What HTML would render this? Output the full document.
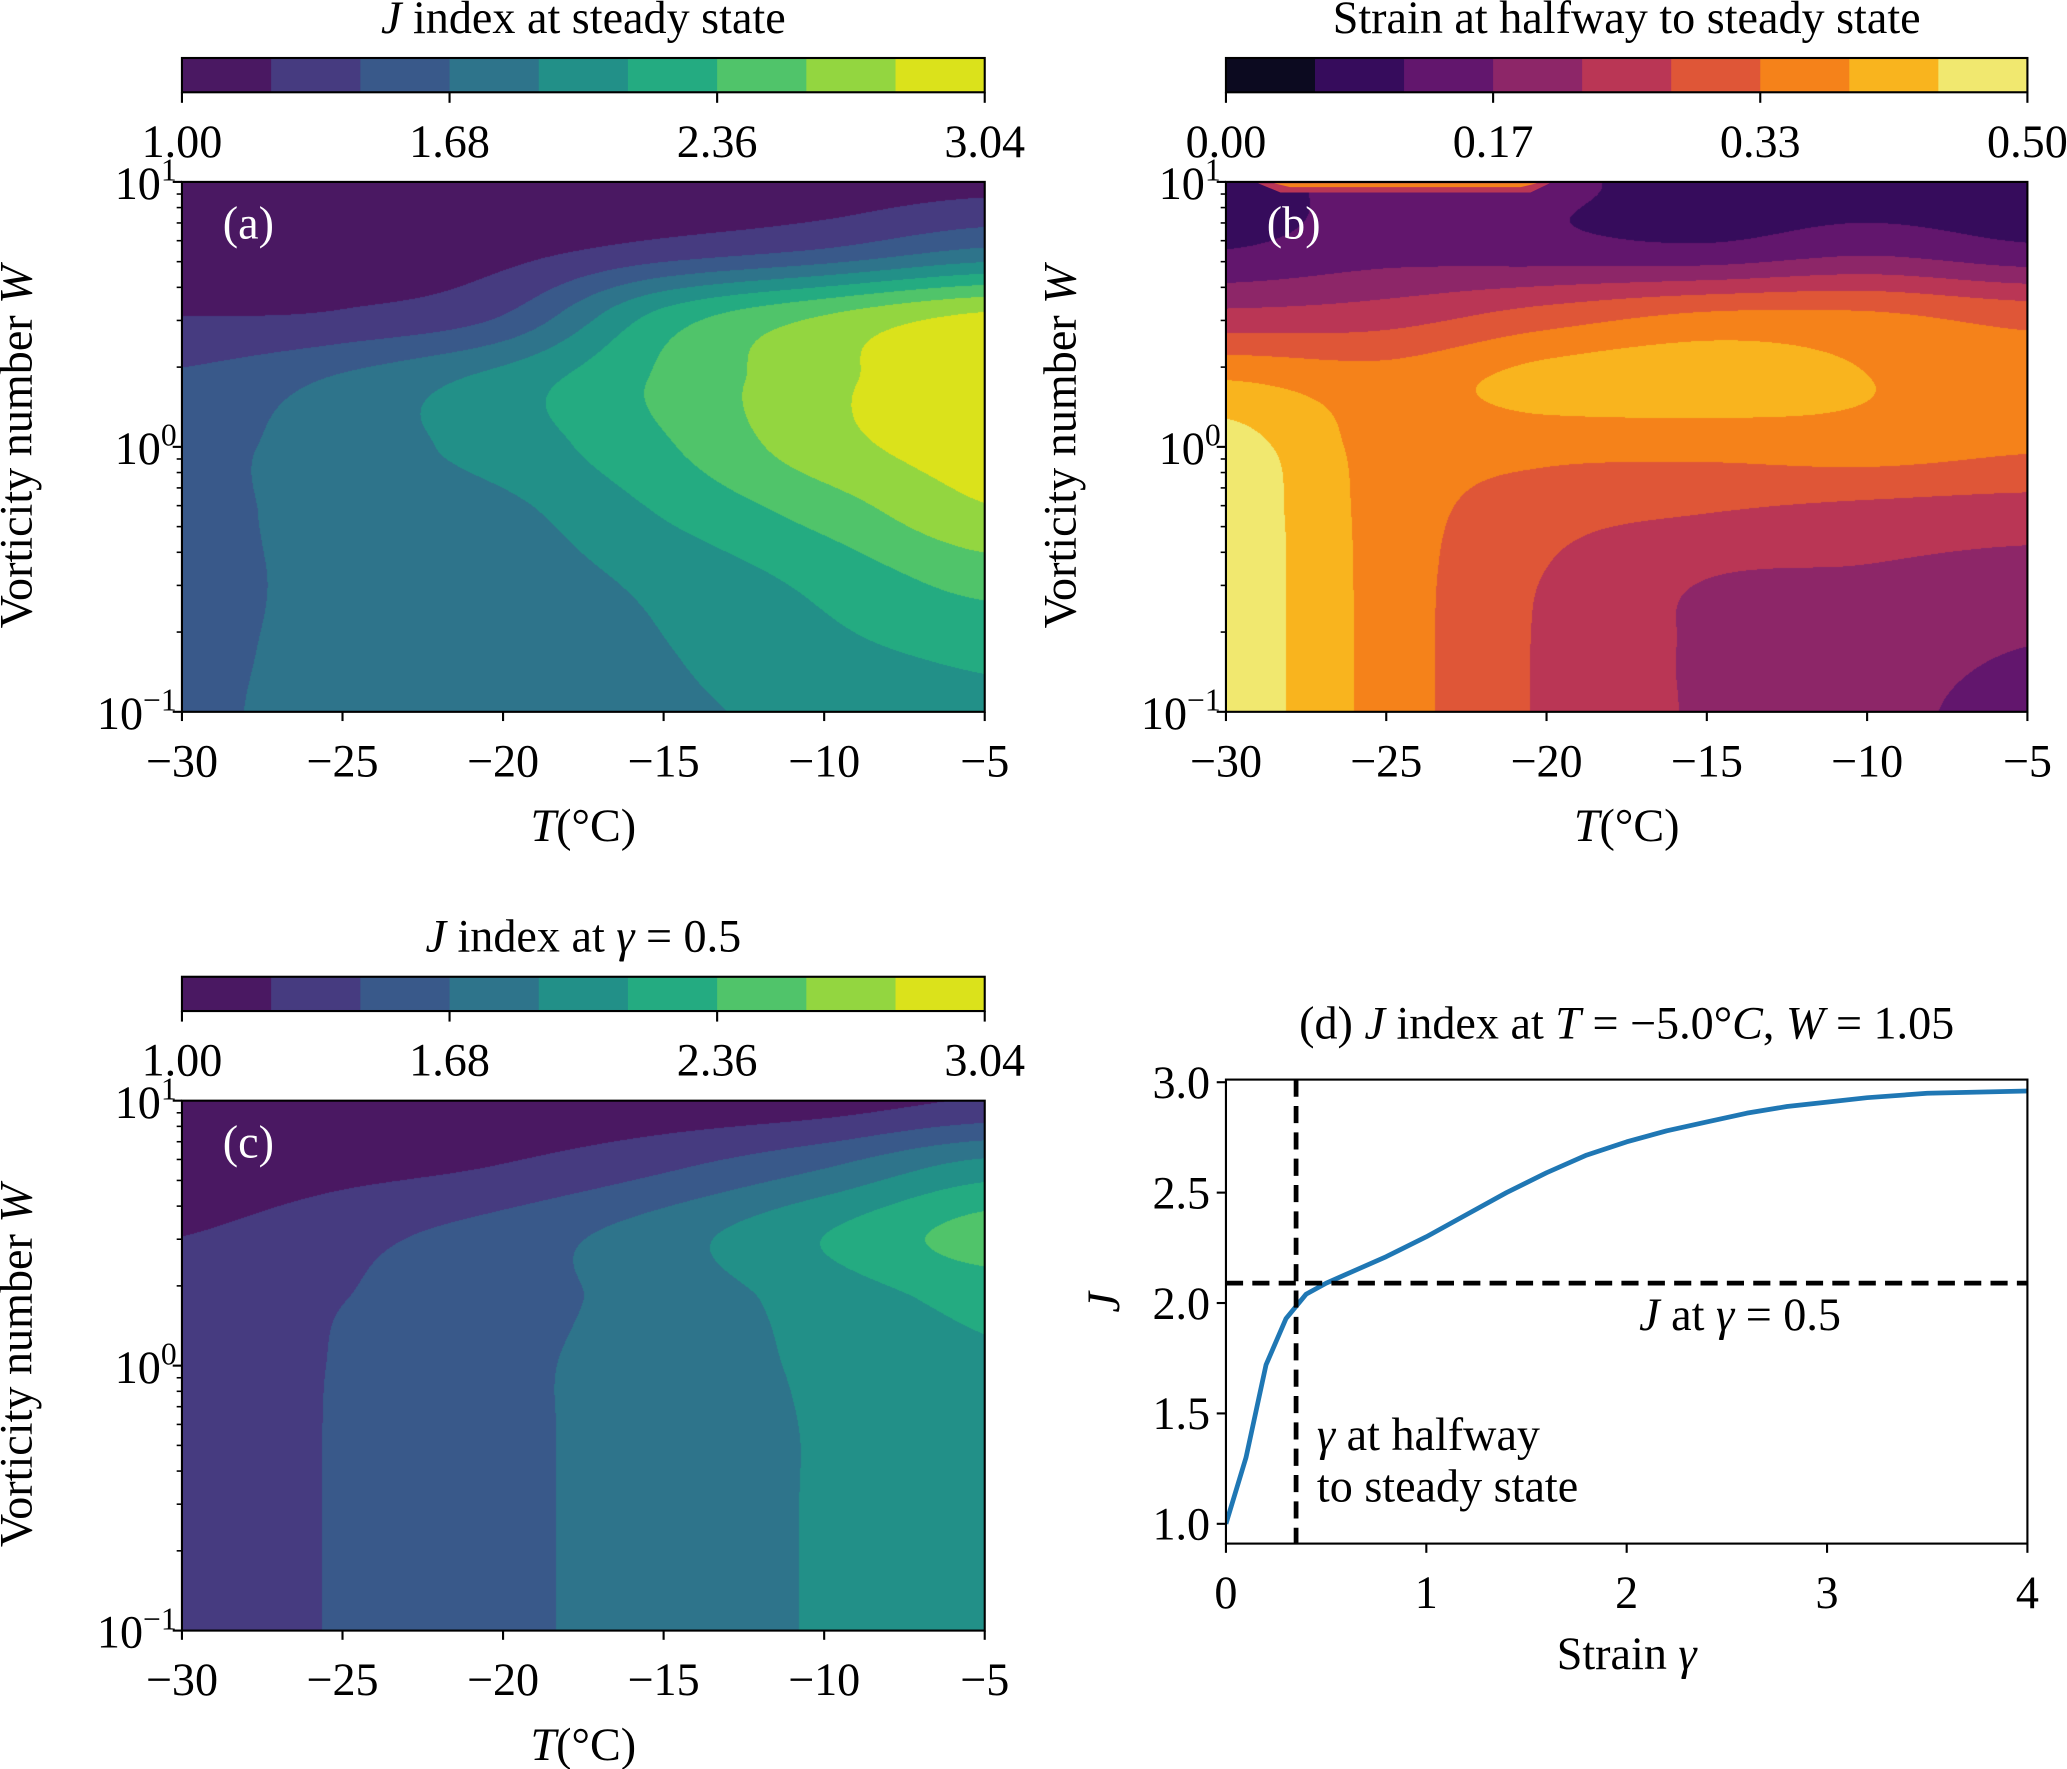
<!DOCTYPE html>
<html><head><meta charset="utf-8">
<style>
html,body{margin:0;padding:0;background:#fff;}
#root{position:relative;width:2067px;height:1769px;overflow:hidden;background:#fff;}
canvas{position:absolute;}
svg{position:absolute;left:0;top:0;}
text{font-family:"Liberation Serif","DejaVu Serif",serif;}
</style></head>
<body>
<div id="root">
<canvas id="cvA"></canvas>
<canvas id="cvB"></canvas>
<canvas id="cvC"></canvas>
<svg id="svg" width="2067" height="1769" viewBox="0 0 1568 1342"></svg>
</div>
<script>
// ---- data ----
const tempCols = [-30,-25,-20,-15,-10,-5];
const logWRows = [1,0.75,0.5,0.25,0,-0.25,-0.5,-0.75,-1];
const jSteady = [
 [1.02,1.03,1.05,1.08,1.10,1.15],
 [1.08,1.10,1.15,1.30,1.45,1.69],
 [1.22,1.25,1.45,2.20,2.58,2.84],
 [1.50,1.72,2.00,2.40,2.75,3.00],
 [1.60,1.80,2.00,2.33,2.72,2.93],
 [1.62,1.76,1.85,2.15,2.45,2.78],
 [1.63,1.73,1.79,1.97,2.20,2.45],
 [1.65,1.72,1.76,1.90,2.08,2.20],
 [1.66,1.72,1.75,1.87,1.96,2.08]];
const strainHalf = [
 [0.10,0.12,0.12,0.09,0.08,0.08],
 [0.11,0.14,0.13,0.12,0.15,0.12],
 [0.235,0.25,0.30,0.34,0.34,0.31],
 [0.39,0.36,0.41,0.42,0.39,0.36],
 [0.47,0.365,0.35,0.35,0.36,0.34],
 [0.48,0.365,0.30,0.278,0.26,0.25],
 [0.48,0.365,0.275,0.222,0.215,0.20],
 [0.48,0.365,0.27,0.215,0.20,0.167],
 [0.48,0.365,0.27,0.215,0.19,0.14]];
const jHalf = [
 [1.00,1.02,1.05,1.08,1.12,1.25],
 [1.05,1.15,1.24,1.42,1.67,2.00],
 [1.22,1.38,1.55,1.80,2.13,2.45],
 [1.36,1.45,1.60,1.77,2.00,2.20],
 [1.32,1.47,1.63,1.78,1.95,2.10],
 [1.32,1.474,1.63,1.78,1.93,2.08],
 [1.32,1.474,1.63,1.78,1.93,2.08],
 [1.32,1.474,1.63,1.78,1.93,2.08],
 [1.32,1.474,1.63,1.78,1.93,2.08]];
const jTicks = ["1.00","1.68","2.36","3.04"];
const strainTicks = ["0.00","0.17","0.33","0.50"];
const tTicks = [-30,-25,-20,-15,-10,-5];
const gammaVals = [0,0.1,0.2,0.3,0.4,0.5,0.6,0.8,1.0,1.2,1.4,1.6,1.8,2.0,2.2,2.4,2.6,2.8,3.0,3.2,3.5,4.0];
const jVals = [1.0,1.3,1.72,1.93,2.04,2.09,2.13,2.21,2.30,2.40,2.50,2.59,2.67,2.73,2.78,2.82,2.86,2.89,2.91,2.93,2.95,2.96];
const gammaTicks = [0,1,2,3,4];
const jAxisTicks = [1.0,1.5,2.0,2.5,3.0];
const gammaHalf = 0.35;
const jAtHalf = 2.09;
const viridis9 = ["#4a1862","#463b80","#39598a","#2e748b","#229088","#24ab81","#50c46a","#93d640","#dbe21b"];
const inferno9 = ["#0c0a20","#360c5c","#62166d","#8d2668","#ba3655","#df5637","#f5821a","#f9b41e","#f1e86f"];

// ---- helpers ----
const S = 2067/1568;
const NS = "http://www.w3.org/2000/svg";
const svg = document.getElementById('svg');
function mk(tag, attrs, parent){const e=document.createElementNS(NS,tag);for(const k in attrs)e.setAttribute(k,attrs[k]);(parent||svg).appendChild(e);return e;}
function cr(p0,p1,p2,p3,t){return 0.5*((2*p1)+(-p0+p2)*t+(2*p0-5*p1+4*p2-p3)*t*t+(-p0+3*p1-3*p2+p3)*t*t*t);}
function evalGrid(g,u,v){
  const nr=g.length,nc=g[0].length;
  const ci=Math.min(Math.max(Math.floor(u),0),nc-2), tu=u-ci;
  const ri=Math.min(Math.max(Math.floor(v),0),nr-2), tv=v-ri;
  const col=j=>g[Math.min(Math.max(j,0),nr-1)];
  const at=(row,i)=>row[Math.min(Math.max(i,0),nc-1)];
  const rv=[];
  for(let j=ri-1;j<=ri+2;j++){const r=col(j);rv.push(cr(at(r,ci-1),at(r,ci),at(r,ci+1),at(r,ci+2),tu));}
  return cr(rv[0],rv[1],rv[2],rv[3],tv);
}
function hexRGB(h){return [parseInt(h.substr(1,2),16),parseInt(h.substr(3,2),16),parseInt(h.substr(5,2),16)];}

function drawContour(id, box, grid, lo, hi, colors){
  const cv=document.getElementById(id);
  const X0=Math.round(box.x0*S), Y0=Math.round(box.y0*S), X1=Math.round(box.x1*S), Y1=Math.round(box.y1*S);
  const W=X1-X0, H=Y1-Y0;
  cv.width=W; cv.height=H; cv.style.left=X0+'px'; cv.style.top=Y0+'px';
  const ctx=cv.getContext('2d'); const img=ctx.createImageData(W,H);
  const rgb=colors.map(hexRGB); const step=(hi-lo)/9;
  for(let py=0;py<H;py++){
    const yv=1-2*(py+0.5)/H; const v=(1-yv)/0.25;
    for(let px=0;px<W;px++){
      const T=-30+25*(px+0.5)/W; const u=(T+30)/5;
      const val=evalGrid(grid,u,v);
      let b=Math.floor((val-lo)/step); b=Math.max(0,Math.min(8,b));
      const c=rgb[b]; const o=(py*W+px)*4;
      img.data[o]=c[0];img.data[o+1]=c[1];img.data[o+2]=c[2];img.data[o+3]=255;
    }
  }
  ctx.putImageData(img,0,0);
}

const FS=35;
function txt(x,y,s,attrs,name){const t=mk('text',Object.assign({x:x,y:y,'font-size':FS,fill:'#000'},attrs||{}));t.textContent=s;return t;}
function richText(x,y,parts,attrs,name){
  const t=mk('text',Object.assign({x:x,y:y,'font-size':FS,fill:'#000'},attrs||{}));
  
  
  parts.forEach(p=>{const s=mk('tspan',p.it?{'font-style':'italic'}:{},t);s.textContent=p.s;});
  return t;
}

function contourAxes(box, prefix, letter){
  const g=mk('g',{});
  
  
  const xs=T=>box.x0+(T+30)/25*(box.x1-box.x0);
  const ys=l=>box.y0+(1-l)/2*(box.y1-box.y0);
  const fr=mk('rect',{x:box.x0,y:box.y0,width:box.x1-box.x0,height:box.y1-box.y0,fill:'none',stroke:'#000','stroke-width':1.6},g);
  
  
  tTicks.forEach(T=>{
    const x=xs(T);
    const tk=mk('line',{x1:x,x2:x,y1:box.y1,y2:box.y1+7,stroke:'#000','stroke-width':1.6},g);
    
    
    txt(x,box.y1+49,(T<0?'\u2212':'')+Math.abs(T),{'text-anchor':'middle'},'x-tick-label');
  });
  for(let d=-1;d<=1;d++){
    const y=ys(d);
    const tk=mk('line',{x1:box.x0-7,x2:box.x0,y1:y,y2:y,stroke:'#000','stroke-width':1.6},g);
    
    
    const t=mk('text',{x:box.x0-4,y:y+13,'font-size':FS,'text-anchor':'end',fill:'#000'},g);
    
    
    const a=mk('tspan',{},t);a.textContent='10';
    const b=mk('tspan',{'font-size':24,dy:-14},t);b.textContent=(d<0?'\u2212':'')+Math.abs(d);
    if(d<1){for(let k=2;k<=9;k++){const yy=ys(d+Math.log10(k));
      const m=mk('line',{x1:box.x0-4,x2:box.x0,y1:yy,y2:yy,stroke:'#000','stroke-width':1.2},g);
      
      }}
  }
  richText((box.x0+box.x1)/2, box.y1+98, [{s:'T',it:true},{s:'(\u00b0C)'}], {'text-anchor':'middle'}, prefix+'-x-axis-title');
  richText(0,0,[{s:'Vorticity number '},{s:'W',it:true}],{'text-anchor':'middle',transform:`translate(${box.x0-114},${(box.y0+box.y1)/2}) rotate(-90)`},prefix+'-y-axis-title');
  txt(box.x0+31,box.y0+43,'('+letter+')',{fill:'#fff'},prefix+'-panel-label');
}

function colorbar(x0,x1,y0,y1,colors,ticks,titleParts,prefix){
  const w=(x1-x0)/9;
  colors.forEach((c,i)=>{const r=mk('rect',{x:x0+i*w,y:y0,width:w+0.6,height:y1-y0,fill:c});
    
    });
  const fr=mk('rect',{x:x0,y:y0,width:x1-x0,height:y1-y0,fill:'none',stroke:'#000','stroke-width':1.6});
  
  
  ticks.forEach((s,i)=>{const x=x0+i*(x1-x0)/3;
    const tk=mk('line',{x1:x,x2:x,y1:y1,y2:y1+8,stroke:'#000','stroke-width':1.6});
    
    
    txt(x,y1+49,s,{'text-anchor':'middle'},'colorbar-tick-label');});
  richText((x0+x1)/2,y0-19,titleParts,{'text-anchor':'middle'},prefix+'-colorbar-title');
}

// ---- panels ----
const boxA={x0:138,x1:747,y0:138,y1:540};
const boxB={x0:930,x1:1538,y0:138,y1:540};
const boxC={x0:138,x1:747,y0:835,y1:1237};
drawContour('cvA',boxA,jSteady,1.0,3.04,viridis9);
drawContour('cvB',boxB,strainHalf,0.0,0.5,inferno9);
drawContour('cvC',boxC,jHalf,1.0,3.04,viridis9);

(function(){
  const xs=T=>boxB.x0+(T+30)/25*(boxB.x1-boxB.x0);
  const p1=mk('polygon',{points:`${xs(-29)},${boxB.y0+1} ${xs(-19.9)},${boxB.y0+1} ${xs(-20.5)},${boxB.y0+8} ${xs(-28.3)},${boxB.y0+8}`,fill:'#ba3655'});
  
  
  const p2=mk('polygon',{points:`${xs(-28.5)},${boxB.y0+1} ${xs(-20.3)},${boxB.y0+1} ${xs(-20.8)},${boxB.y0+4} ${xs(-28)},${boxB.y0+4}`,fill:'#f5821a'});
  
  
})();

contourAxes(boxA,'panel-a','a');
contourAxes(boxB,'panel-b','b');
contourAxes(boxC,'panel-c','c');
colorbar(138,747,44,70,viridis9,jTicks,[{s:'J',it:true},{s:' index at steady state'}],'panel-a');
colorbar(930,1538,44,70,inferno9,strainTicks,[{s:'Strain at halfway to steady state'}],'panel-b');
colorbar(138,747,741,767,viridis9,jTicks,[{s:'J',it:true},{s:' index at '},{s:'\u03b3',it:true},{s:' = 0.5'}],'panel-c');

// ---- panel d ----
const boxD={x0:930,x1:1538,y0:819,y1:1171};
const gx=g=>boxD.x0+g/4*(boxD.x1-boxD.x0);
const jy=j=>1156-(j-1.0)*167.5;
mk('defs',{}).innerHTML='<clipPath id="clipD"><rect x="930" y="819" width="608" height="352"/></clipPath>';
gammaTicks.forEach(g=>{const x=gx(g);
  const tk=mk('line',{x1:x,x2:x,y1:boxD.y1,y2:boxD.y1+7,stroke:'#000','stroke-width':1.6});
  
  
  txt(x,boxD.y1+49,String(g),{'text-anchor':'middle'},'x-tick-label');});
jAxisTicks.forEach(j=>{const y=jy(j);
  const tk=mk('line',{x1:boxD.x0-7,x2:boxD.x0,y1:y,y2:y,stroke:'#000','stroke-width':1.6});
  
  
  txt(boxD.x0-12,y+12,j.toFixed(1),{'text-anchor':'end'},'y-tick-label');});
const curve=mk('polyline',{points:gammaVals.map((g,i)=>gx(g)+','+jy(jVals[i])).join(' '),fill:'none',stroke:'#1f77b4','stroke-width':3.6,'stroke-linejoin':'round','clip-path':'url(#clipD)'});


const vl=mk('line',{x1:gx(gammaHalf),x2:gx(gammaHalf),y1:boxD.y0,y2:boxD.y1,stroke:'#000','stroke-width':3.6,'stroke-dasharray':'13,7'});


const hl=mk('line',{x1:boxD.x0,x2:boxD.x1,y1:jy(jAtHalf),y2:jy(jAtHalf),stroke:'#000','stroke-width':3.6,'stroke-dasharray':'13,7'});


const frD=mk('rect',{x:boxD.x0,y:boxD.y0,width:boxD.x1-boxD.x0,height:boxD.y1-boxD.y0,fill:'none',stroke:'#000','stroke-width':1.6});


richText(1234,788,[{s:'(d) '},{s:'J',it:true},{s:' index at '},{s:'T',it:true},{s:' = \u22125.0\u00b0'},{s:'C',it:true},{s:', '},{s:'W',it:true},{s:' = 1.05'}],{'text-anchor':'middle'},'panel-d-title');
richText(1320,1009,[{s:'J',it:true},{s:' at '},{s:'\u03b3',it:true},{s:' = 0.5'}],{'text-anchor':'middle'},'j-at-half-annotation');
richText(999,1100,[{s:'\u03b3',it:true},{s:' at halfway'}],{},'halfway-annotation-line1');
txt(999,1139,'to steady state',{},'halfway-annotation-line2');
richText(1234,1266,[{s:'Strain '},{s:'\u03b3',it:true}],{'text-anchor':'middle'},'panel-d-x-axis-title');
richText(0,0,[{s:'J',it:true}],{'text-anchor':'middle',transform:'translate(849,988) rotate(-90)'},'panel-d-y-axis-title');
</script>
</body></html>
